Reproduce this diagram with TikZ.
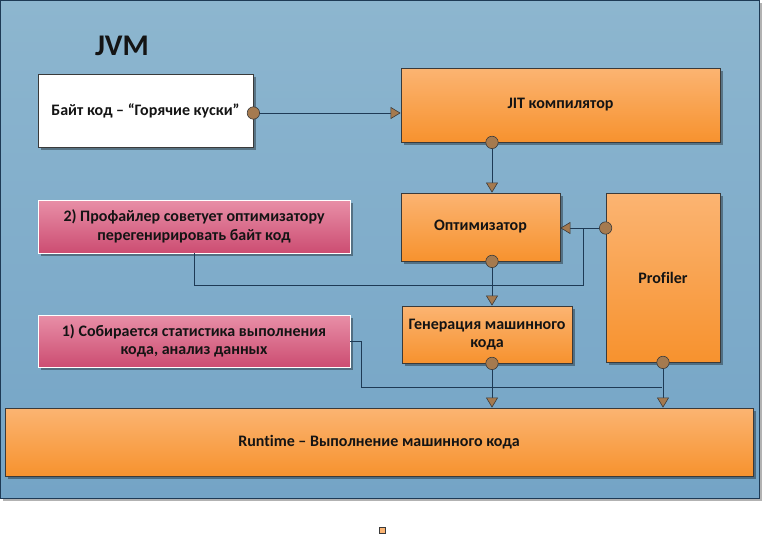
\documentclass[tikz,border=0pt]{standalone}
\usepackage{fontspec}
\setmainfont{Carlito}[Ligatures=NoCommon]
\usetikzlibrary{arrows.meta,shadows,calc}
\definecolor{bgtop}{HTML}{8DB6CF}
\definecolor{bgbot}{HTML}{74A4C6}
\definecolor{ortop}{HTML}{FBB472}
\definecolor{orbot}{HTML}{F7922E}
\definecolor{pktop}{HTML}{E88FA7}
\definecolor{pkbot}{HTML}{CC4D72}
\definecolor{edge}{HTML}{3A3A3A}
\definecolor{wire}{HTML}{1E3A55}
\definecolor{tipbrown}{HTML}{A57A4F}
\definecolor{txt}{HTML}{141414}
\tikzset{
  base/.style={draw=edge, line width=0.8pt, align=center, inner sep=2pt,
    font=\fontsize{16}{18.5}\selectfont\bfseries, text=txt,
    drop shadow={shadow xshift=2.5pt, shadow yshift=-2.5pt, fill=black, opacity=0.35}},
  orbox/.style={base, top color=ortop, bottom color=orbot},
  pkbox/.style={base, top color=pktop, bottom color=pkbot, draw=white, line width=0.6pt},
  whbox/.style={base, fill=white},
  wire/.style={draw=wire, line width=0.9pt},
  flow/.style={wire, shorten <=-6.5pt,
    {Circle[length=13pt, fill=tipbrown, color=edge, line width=0.6pt]}-{Triangle[width=12pt, length=10pt, fill=tipbrown, color=edge, line width=0.6pt]}},
}
\begin{document}
\begin{tikzpicture}[x=1pt, y=-1pt]
\useasboundingbox (0,0) rectangle (767,536);
% background
\node[draw=wire, line width=1.2pt, top color=bgtop, bottom color=bgbot,
  minimum width=759pt, minimum height=498pt, inner sep=0pt,
  drop shadow={shadow xshift=2pt, shadow yshift=-2pt, fill=black, opacity=0.3}]
  (bg) at (380,249.5) {};
\node[font=\fontsize{30}{34}\selectfont\bfseries, text=txt] (jvm) at (122,46) {JVM};
% boxes
\node[whbox, minimum width=215pt, minimum height=73pt] (byte) at (145.5,110.5) {Байт код – “Горячие куски”};
\node[orbox, minimum width=319pt, minimum height=74pt] (jit) at (560.5,105) {JIT компилятор};
\node[orbox, minimum width=159pt, minimum height=68pt] (opt) at (480.5,227) {Оптимизатор};
\node[orbox, minimum width=114pt, minimum height=169pt] (prof) at (663,277.5) {Profiler};
\node[orbox, minimum width=170pt, minimum height=57pt] (gen) at (487,334.5) {Генерация машинного\\кода};
\node[orbox, minimum width=748pt, minimum height=68pt] (rt) at (379,442) {Runtime – Выполнение машинного кода};
\node[pkbox, minimum width=312pt, minimum height=53pt] (p2) at (194,226.5) {2) Профайлер советует оптимизатору\\перегенирировать байт код};
\node[pkbox, minimum width=312pt, minimum height=52pt] (p1) at (194,341) {1) Собирается статистика выполнения\\кода, анализ данных};
\node[draw=edge, fill=ortop, line width=0.5pt, minimum size=6pt, inner sep=0pt,
  drop shadow={shadow xshift=1pt, shadow yshift=-1pt, fill=black, opacity=0.3}] (sq) at (382,530) {};
% helper coordinates
\coordinate (colx) at (492,0);
\coordinate (j2) at (583,285);
\coordinate (j2top) at (583,228);
\coordinate (j1) at (361,387);
\coordinate (j1e) at (662,387);
% feedback wires
\draw[wire] (p2.south) |- (j2) -- (j2top);
\draw[wire] (p1.east) -| (j1) -- (j1e);
% flows
\draw[flow] (byte.east |- 0,113) -- (jit.west |- 0,113);
\draw[flow] (jit.south -| colx) -- (opt.north -| colx);
\draw[flow] (prof.west |- 0,228) -- (opt.east |- 0,228);
\draw[flow] (opt.south -| colx) -- (gen.north -| colx);
\draw[flow] (gen.south -| colx) -- (rt.north -| colx);
\draw[flow] (prof.south) -- (rt.north -| prof.south);
\end{tikzpicture}
\end{document}
